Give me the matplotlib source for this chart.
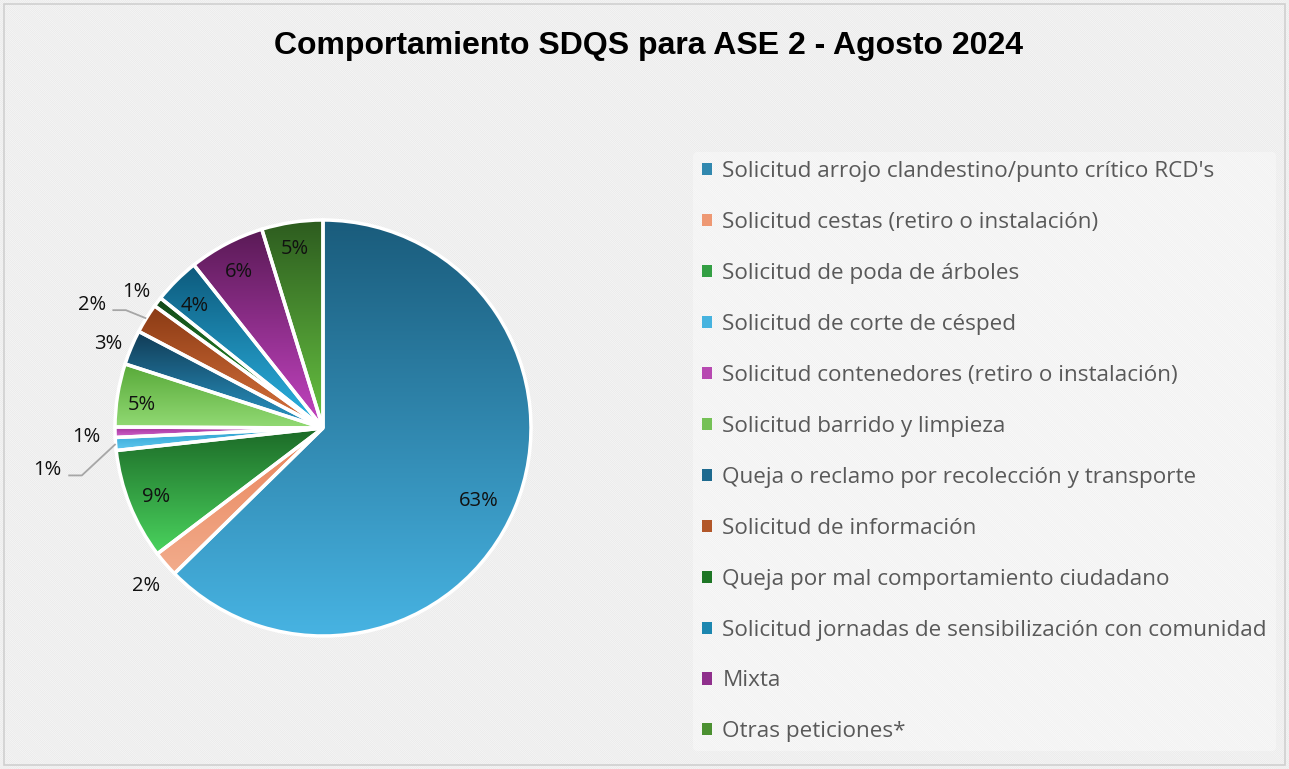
import numpy as np
import matplotlib
matplotlib.use("Agg")
import matplotlib.pyplot as plt
from matplotlib.patches import Rectangle, Wedge
from matplotlib.colors import to_rgb

categorias = [
    "Solicitud arrojo clandestino/punto crítico RCD's",
    "Solicitud cestas (retiro o instalación)",
    "Solicitud de poda de árboles",
    "Solicitud de corte de césped",
    "Solicitud contenedores (retiro o instalación)",
    "Solicitud barrido y limpieza",
    "Queja o reclamo por recolección y transporte",
    "Solicitud de información",
    "Queja por mal comportamiento ciudadano",
    "Solicitud jornadas de sensibilización con comunidad",
    "Mixta",
    "Otras peticiones*",
]
porcentajes = [62.6, 2.0, 8.6, 1.0, 0.8, 4.9, 2.7, 2.3, 0.75, 3.6, 5.9, 4.75]

# gradient colours per slice (top, bottom)
col_top = ["#1a5c7c", "#e9845a", "#1c6a27", "#2a9ccc", "#9c2e96", "#57a838",
           "#113b55", "#8a3a14", "#134818", "#0d5a7c", "#5a1a56", "#2d5c1f"]
col_bot = ["#47b3e2", "#f2ac8c", "#4ad35e", "#62cbf2", "#d263cb", "#92da74",
           "#2a98c8", "#da743e", "#2aa432", "#2cb4e4", "#c444c2", "#68c442"]

# label placement: radius (fraction of pie radius) and angle nudge (deg)
lbl_r = [0.83, 1.14, 0.87, 1.34, 1.14, 0.88, 1.11, 1.26, 1.11, 0.85, 0.85, 0.87]
lbl_da = [-2.4, 1.0, 0.6, 4.3, 1.0, 1.9, 1.4, 3.8, 1.1, 1.5, 0.5, 0.3]
leader = [False, False, False, True, False, False, False, True, False, False, False, False]

W, H = 1289, 769
fig = plt.figure(figsize=(W / 100, H / 100), dpi=100)
plt.rcParams['hatch.linewidth'] = 0.8

# hatched background
fig.patches.append(Rectangle((0, 0), 1, 1, transform=fig.transFigure, facecolor="white",
                             edgecolor="#ebebeb", hatch="\\" * 16, linewidth=0, zorder=-10))
fig.patches.append(Rectangle((4 / W, 4 / H), 1 - 8 / W, 1 - 8 / H, transform=fig.transFigure,
                             facecolor="none", edgecolor="#d0d0d0", linewidth=1.2, zorder=-9))

fig.text(648 / W, 1 - 46 / H, "Comportamiento SDQS para ASE 2 - Agosto 2024",
         ha="center", va="center", fontsize=23, fontweight="bold",
         family="Liberation Sans", color="black")

cx, cy, R, half = 323, 428, 208, 300
ax = fig.add_axes([(cx - half) / W, (H - cy - half) / H, 2 * half / W, 2 * half / H])
ax.set_axis_off()

wedges, _ = ax.pie(porcentajes, startangle=90, counterclock=False, radius=1,
                   wedgeprops=dict(linewidth=0))

for i, w in enumerate(wedges):
    x0, y0, x1, y1 = w.get_path().get_extents().extents
    t = np.linspace(0, 1, 128)[:, None, None]
    grad = (1 - t) * np.array(to_rgb(col_top[i])) + t * np.array(to_rgb(col_bot[i]))
    img = ax.imshow(grad, extent=[x0, x1, y0, y1], origin="upper", aspect="auto",
                    interpolation="bilinear", zorder=2)
    img.set_clip_path(w)
    ax.add_patch(Wedge(w.center, w.r, w.theta1, w.theta2, facecolor="none",
                       edgecolor="white", linewidth=2.5, zorder=3))

lim = half / R
ax.set_xlim(-lim, lim)
ax.set_ylim(-lim, lim)
ax.set_aspect("equal")

total = sum(porcentajes)
for i, w in enumerate(wedges):
    mid = (w.theta1 + w.theta2) / 2
    ang = np.deg2rad(mid + lbl_da[i])
    r = lbl_r[i]
    txt = f"{porcentajes[i] / total * 100:.0f}%"
    x, y = r * np.cos(ang), r * np.sin(ang)
    ax.text(x, y, txt, ha="center", va="center", fontsize=14.5, family="Open Sans",
            color="#111111", zorder=5)
    if leader[i]:
        ex, ey = np.cos(np.deg2rad(mid)), np.sin(np.deg2rad(mid))
        ys = y - 0.025
        ax.plot([x + 0.1, x + 0.165, ex], [ys, ys, ey], color="#a6a6a6", lw=1.3,
                zorder=4, solid_capstyle="butt")

def mix(a, b):
    return tuple((np.array(to_rgb(a)) + np.array(to_rgb(b))) / 2)

handles = [Rectangle((0, 0), 1, 1, facecolor=mix(col_top[i], col_bot[i]), edgecolor="none")
           for i in range(len(categorias))]
leg = fig.legend(handles, categorias, loc="upper left",
                 bbox_to_anchor=(682 / W, 1 - 141 / H), frameon=True,
                 prop=dict(family="Open Sans", size=16.2), labelcolor="#595959",
                 handlelength=0.45, handleheight=0.45, handletextpad=0.45,
                 labelspacing=1.33, borderpad=0.4)
leg.get_frame().set_facecolor("white")
leg.get_frame().set_alpha(0.35)
leg.get_frame().set_edgecolor("none")

fig.savefig("out.png", dpi=100)
